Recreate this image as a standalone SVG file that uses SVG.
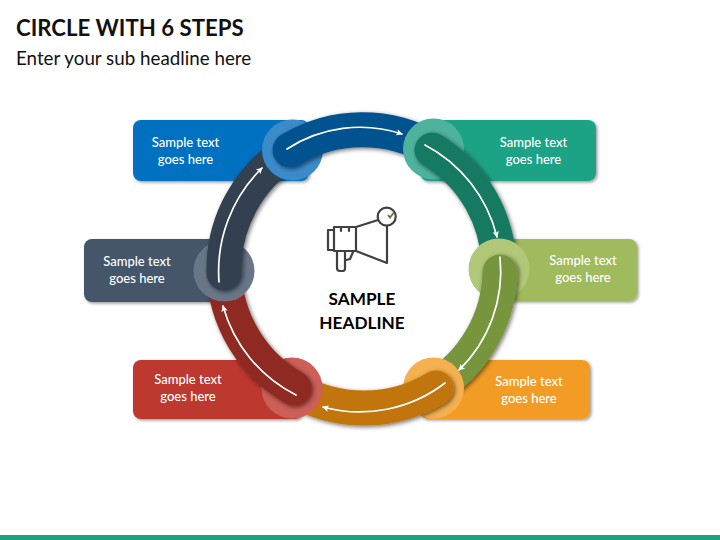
<svg xmlns="http://www.w3.org/2000/svg" width="720" height="540" viewBox="0 0 720 540">
<style>
text{font-family:"Lato","Liberation Sans",sans-serif}
.t{fill:#fff;font-size:13px;font-weight:500;text-anchor:middle}
.h{fill:#000;font-size:17.2px;font-weight:700;text-anchor:middle}
.b{fill:none;stroke-width:35;stroke-linecap:round}
.a{fill:none;stroke:#fff;stroke-width:1.7;stroke-linecap:round;marker-end:url(#ah)}
.i{fill:none;stroke:#404040;stroke-width:2.2;stroke-linejoin:round;stroke-linecap:round}
</style>
<defs>
<marker id="ah" viewBox="0 0 8 8" refX="7" refY="4" markerWidth="6.500" markerHeight="6.500" markerUnits="userSpaceOnUse" orient="auto"><path d="M0 0L8 4L0 8L2 4Z" fill="#fff"/></marker>
<filter id="s" x="-20%" y="-20%" width="140%" height="140%"><feDropShadow dx="1.5" dy="1.5" stdDeviation="1.5" flood-color="#000" flood-opacity=".4"/></filter>
<filter id="sb" filterUnits="userSpaceOnUse" x="0" y="0" width="720" height="540"><feDropShadow dx="1.5" dy="1.5" stdDeviation="2" flood-color="#000" flood-opacity=".55"/></filter>
<mask id="m" maskUnits="userSpaceOnUse" x="0" y="0" width="720" height="540"><rect width="720" height="540" fill="#fff"/><circle cx="224" cy="271" r="30.5" fill="#000"/></mask>
</defs>
<rect width="720" height="540" fill="#fff"/>
<text x="16" y="36" font-size="22.200" font-weight="700" fill="#111">CIRCLE WITH 6 STEPS</text>
<text x="16" y="65" font-size="18.800" fill="#111">Enter your sub headline here</text>
<rect y="535" width="720" height="5" fill="#1fa07f"/>
<g id="node-1"><rect x="133" y="120" width="176" height="61" rx="8" fill="#0070c0" filter="url(#s)"/><text class="t" x="185.500" y="147">Sample text</text><text class="t" x="185.500" y="164">goes here</text></g>
<g id="node-2"><rect x="420" y="120" width="176" height="61" rx="8" fill="#1fa284" filter="url(#s)"/><text class="t" x="533.500" y="147">Sample text</text><text class="t" x="533.500" y="164">goes here</text></g>
<g id="node-3"><rect x="490" y="239" width="147" height="62" rx="8" fill="#9fbb5d" filter="url(#s)"/><text class="t" x="583" y="265">Sample text</text><text class="t" x="583" y="282">goes here</text></g>
<g id="node-4"><rect x="420" y="360" width="170" height="59" rx="8" fill="#f29c27" filter="url(#s)"/><text class="t" x="529" y="386">Sample text</text><text class="t" x="529" y="403">goes here</text></g>
<g id="node-5"><rect x="133" y="360" width="170" height="59" rx="8" fill="#bd382e" filter="url(#s)"/><text class="t" x="188" y="384">Sample text</text><text class="t" x="188" y="401">goes here</text></g>
<g id="node-6"><rect x="84" y="239" width="150" height="63" rx="8" fill="#44546a" filter="url(#s)"/><text class="t" x="137" y="266">Sample text</text><text class="t" x="137" y="283">goes here</text></g>
<g id="connectors">
<circle cx="224" cy="271" r="30.500" fill="#697688"/>
<path class="b" stroke="#333f50" filter="url(#sb)" d="M224 273A139 139 0 0 1 292 150"/>
<circle cx="292.500" cy="150" r="30.500" fill="#3b8bca"/>
<path class="b" stroke="#00528f" filter="url(#sb)" d="M290 150A139 139 0 0 1 433 149"/>
<circle cx="433.500" cy="149" r="30.500" fill="#4db39c"/>
<path class="b" stroke="#177a64" filter="url(#sb)" d="M432 150A139 139 0 0 1 499 269"/>
<circle cx="499" cy="269" r="30.500" fill="#b0c878"/>
<path class="b" stroke="#77953e" filter="url(#sb)" d="M500 272A139 139 0 0 1 433 388"/>
<circle cx="433.500" cy="388" r="30.500" fill="#f5b04f"/>
<path class="b" stroke="#c27508" filter="url(#sb)" d="M436 388A139 139 0 0 1 292 388"/>
<circle cx="292" cy="388" r="30.500" fill="#cc5f58"/>
<g mask="url(#m)"><path class="b" stroke="#8e2a22" filter="url(#sb)" d="M294 388A139 139 0 0 1 224 271"/></g>
<path class="a" d="M287 149A134 134 0 0 1 402 134"/>
<path class="a" d="M425 145A142 142 0 0 1 497 237"/>
<path class="a" d="M500 257A138 138 0 0 1 459 370"/>
<path class="a" d="M445 383A140 140 0 0 1 323 407"/>
<path class="a" d="M296 395A142 142 0 0 1 223 306"/>
<path class="a" d="M219 282A145 145 0 0 1 262 168"/>
</g>
<g id="center">
<path class="i" d="M356 227L378 220M387 226V263L356 251M334 227H356V251H334ZM328 230H334V250H328ZM341 227V231M349 227V231M337 251V268Q337 271 340 271H343Q345 271 345 268V251M346 260L350 259L353 252"/>
<circle class="i" cx="386.700" cy="216.700" r="9"/>
<path d="M388 215l2 2.500 3.500-4.500" fill="none" stroke="#5a7a2e" stroke-width="1.800"/>
<text class="h" x="362" y="304.500">SAMPLE</text>
<text class="h" x="362" y="328.500">HEADLINE</text>
</g>
</svg>
